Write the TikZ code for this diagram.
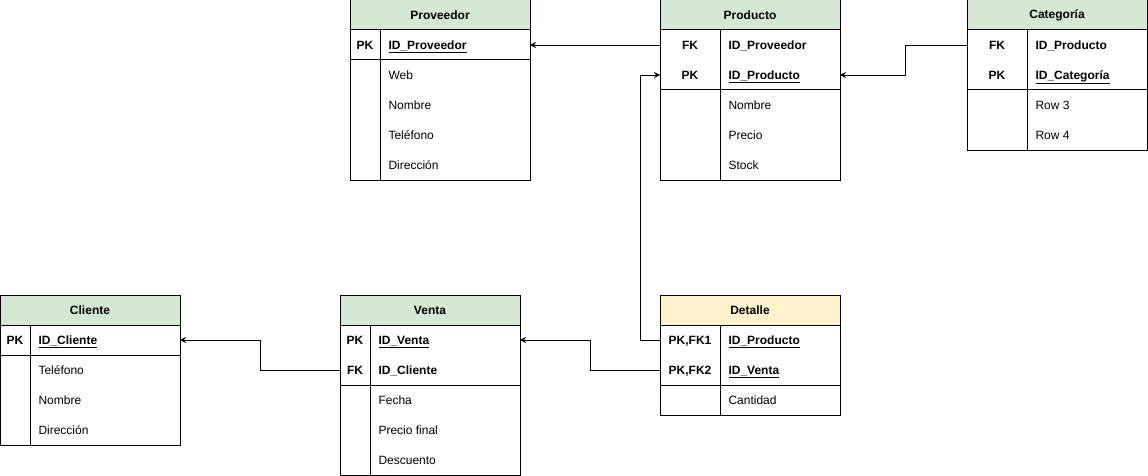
\documentclass[tikz,border=0pt]{standalone}
\usepackage{fontspec}
\setmainfont{Liberation Sans}
\usetikzlibrary{arrows.meta}
\definecolor{hdrgreen}{HTML}{D5E8D4}
\definecolor{hdryellow}{HTML}{FFF2CC}
\begin{document}
\begin{tikzpicture}[x=1pt,y=-1pt,line width=1pt,
  font=\fontsize{12}{14}\selectfont,
  tbl/.style={draw,minimum width=180pt,inner sep=0pt,outer sep=0pt},
  hdr/.style={draw,minimum width=180pt,minimum height=30pt,inner sep=0pt,outer sep=0pt,font=\fontsize{12}{14}\selectfont\bfseries},
  rowbox/.style={minimum width=180pt,minimum height=30pt,inner sep=0pt,outer sep=0pt},
  keytxt/.style={inner sep=0pt,anchor=base,yshift=-4.3pt,font=\fontsize{12}{14}\selectfont\bfseries},
  nametxt/.style={inner sep=0pt,anchor=base west,yshift=-4.3pt},
  bnametxt/.style={nametxt,font=\fontsize{12}{14}\selectfont\bfseries},
  conn/.style={-{Stealth[length=6pt,width=6pt]},line width=0.8pt}]
\useasboundingbox (0,0) rectangle (1148,476);

% ---------- Proveedor ----------
\node[tbl,minimum height=180pt] (prov) at (440,90) {};
\node[hdr,fill=hdrgreen] (provH) at (440,15) {Proveedor};
\node[rowbox] (provPK) at (440,45) {};
\draw (350,60) -- (530,60);
\draw (380,30) -- (380,180);
\node[keytxt] (provk1) at (365,45) {PK};
\node[bnametxt] (provn1) at (388,45) {\underline{ID\_Proveedor}};
\node[nametxt] (provn2) at (388,75) {Web};
\node[nametxt] (provn3) at (388,105) {Nombre};
\node[nametxt] (provn4) at (388,135) {Teléfono};
\node[nametxt] (provn5) at (388,165) {Dirección};

% ---------- Producto ----------
\node[tbl,minimum height=180pt] (prod) at (750,90) {};
\node[hdr,fill=hdrgreen] (prodH) at (750,15) {Producto};
\node[rowbox] (prodFK) at (750,45) {};
\node[rowbox] (prodPK) at (750,75) {};
\draw (660,90) -- (840,90);
\draw (720,30) -- (720,180);
\node[keytxt] (prodk1) at (690,45) {FK};
\node[keytxt] (prodk2) at (690,75) {PK};
\node[bnametxt] (prodn1) at (728,45) {ID\_Proveedor};
\node[bnametxt] (prodn2) at (728,75) {\underline{ID\_Producto}};
\node[nametxt] (prodn3) at (728,105) {Nombre};
\node[nametxt] (prodn4) at (728,135) {Precio};
\node[nametxt] (prodn5) at (728,165) {Stock};

% ---------- Categoría ----------
\node[tbl,minimum height=150pt] (cat) at (1057,75) {};
\node[hdr,fill=hdrgreen] (catH) at (1057,15) {Categoría};
\node[rowbox] (catFK) at (1057,45) {};
\node[rowbox] (catPK) at (1057,75) {};
\draw (967,90) -- (1147,90);
\draw (1027,30) -- (1027,150);
\node[keytxt] (catk1) at (997,45) {FK};
\node[keytxt] (catk2) at (997,75) {PK};
\node[bnametxt] (catn1) at (1035,45) {ID\_Producto};
\node[bnametxt] (catn2) at (1035,75) {\underline{ID\_Categoría}};
\node[nametxt] (catn3) at (1035,105) {Row 3};
\node[nametxt] (catn4) at (1035,135) {Row 4};

% ---------- Cliente ----------
\node[tbl,minimum height=150pt] (cli) at (90,370) {};
\node[hdr,fill=hdrgreen] (cliH) at (90,310) {Cliente};
\node[rowbox] (cliPK) at (90,340) {};
\draw (0,355) -- (180,355);
\draw (30,325) -- (30,445);
\node[keytxt] (clik1) at (15,340) {PK};
\node[bnametxt] (clin1) at (38,340) {\underline{ID\_Cliente}};
\node[nametxt] (clin2) at (38,370) {Teléfono};
\node[nametxt] (clin3) at (38,400) {Nombre};
\node[nametxt] (clin4) at (38,430) {Dirección};

% ---------- Venta ----------
\node[tbl,minimum height=180pt] (ven) at (430,385) {};
\node[hdr,fill=hdrgreen] (venH) at (430,310) {Venta};
\node[rowbox] (venPK) at (430,340) {};
\node[rowbox] (venFK) at (430,370) {};
\draw (340,385) -- (520,385);
\draw (370,325) -- (370,475);
\node[keytxt] (venk1) at (355,340) {PK};
\node[keytxt] (venk2) at (355,370) {FK};
\node[bnametxt] (venn1) at (378,340) {\underline{ID\_Venta}};
\node[bnametxt] (venn2) at (378,370) {ID\_Cliente};
\node[nametxt] (venn3) at (378,400) {Fecha};
\node[nametxt] (venn4) at (378,430) {Precio final};
\node[nametxt] (venn5) at (378,460) {Descuento};

% ---------- Detalle ----------
\node[tbl,minimum height=120pt] (det) at (750,355) {};
\node[hdr,fill=hdryellow] (detH) at (750,310) {Detalle};
\node[rowbox] (detFK1) at (750,340) {};
\node[rowbox] (detFK2) at (750,370) {};
\draw (660,385) -- (840,385);
\draw (720,325) -- (720,415);
\node[keytxt] (detk1) at (690,340) {PK,FK1};
\node[keytxt] (detk2) at (690,370) {PK,FK2};
\node[bnametxt] (detn1) at (728,340) {\underline{ID\_Producto}};
\node[bnametxt] (detn2) at (728,370) {\underline{ID\_Venta}};
\node[nametxt] (detn3) at (728,400) {Cantidad};

% ---------- Connectors ----------
\draw[conn] (prodFK.west) -- (provPK.east);
\draw[conn] (catFK.west) -- ++(-62,0) |- (prodPK.east);
\draw[conn] (detFK1.west) -- ++(-20,0) |- (prodPK.west);
\draw[conn] (detFK2.west) -- ++(-70,0) |- (venPK.east);
\draw[conn] (venFK.west) -- ++(-80,0) |- (cliPK.east);
\end{tikzpicture}
\end{document}
